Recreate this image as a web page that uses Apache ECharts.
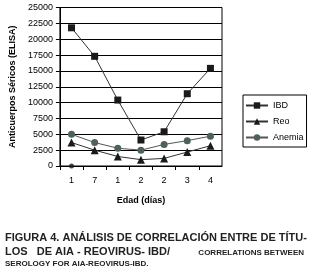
<!DOCTYPE html>
<html><head><meta charset="utf-8">
<script src="https://cdn.jsdelivr.net/npm/echarts@6/dist/echarts.min.js"></script>
<style>html,body{margin:0;padding:0;background:#fff}#c{width:312px;height:270px}</style>
</head><body><div id="c"></div>
<script>
var categories = ['1','7','1','2','2','3','4'];
var ibd = [21800, 17300, 10400, 4100, 5400, 11400, 15400];
var reo = [3700, 2500, 1500, 1000, 1200, 2200, 3200];
var anemia = [5000, 3700, 2800, 2500, 3400, 4000, 4700];
var extra = [0, null, null, null, null, null, null];
var yTicks = [0, 2500, 5000, 7500, 10000, 12500, 15000, 17500, 20000, 22500, 25000];
var seriesNames = ['IBD', 'Reo', 'Anemia'];

var F = 'Liberation Sans, Arial, sans-serif';
var chart = echarts.init(document.getElementById('c'), null, {renderer: 'canvas'});
chart.setOption({
  animation: false,
  backgroundColor: '#fff',
  grid: {left: 50, right: 90, top: 7.5, bottom: 104, show: true, borderColor: '#000', borderWidth: 1},
  legend: {
    data: seriesNames, orient: 'vertical', left: 243, top: 95,
    itemWidth: 22, itemHeight: 8, itemGap: 7,
    padding: [6, 3, 5, 2], borderColor: '#000', borderWidth: 1,
    textStyle: {fontFamily: F, fontSize: 9, color: '#000'}
  },
  xAxis: {
    type: 'category', data: categories, boundaryGap: true,
    name: 'Edad (días)', nameLocation: 'middle', nameGap: 30,
    nameTextStyle: {fontFamily: F, fontSize: 9, fontWeight: 'bold', color: '#000'},
    axisLine: {lineStyle: {color: '#000', width: 1}},
    axisTick: {show: true, length: 4, lineStyle: {color: '#000'}},
    axisLabel: {fontFamily: F, fontSize: 9, color: '#000', margin: 10}
  },
  yAxis: {
    type: 'value', min: yTicks[0], max: yTicks[yTicks.length - 1], interval: 2500,
    name: 'Anticuerpos Séricos (ELISA)', nameLocation: 'middle', nameGap: 40,
    nameTextStyle: {fontFamily: F, fontSize: 9, fontWeight: 'bold', color: '#000'},
    axisLine: {show: true, lineStyle: {color: '#000', width: 1}},
    axisTick: {show: true, length: 4, lineStyle: {color: '#000'}},
    axisLabel: {fontFamily: F, fontSize: 9, color: '#000', margin: 7, formatter: function (v) { return String(v); }},
    splitLine: {lineStyle: {color: '#000', width: 1}}
  },
  series: [
    {name: seriesNames[0], type: 'line', data: ibd, symbol: 'rect', symbolSize: 7,
     itemStyle: {color: '#1a1a1a'}, lineStyle: {color: '#333', width: 1}},
    {name: seriesNames[1], type: 'line', data: reo, symbol: 'triangle', symbolSize: 8,
     itemStyle: {color: '#1a1a1a'}, lineStyle: {color: '#333', width: 1}},
    {name: seriesNames[2], type: 'line', data: anemia, symbol: 'circle', symbolSize: 7,
     itemStyle: {color: '#4d6358'}, lineStyle: {color: '#555', width: 1}},
    {name: 'extra', type: 'scatter', data: extra, symbol: 'circle', symbolSize: 5,
     itemStyle: {color: '#1a1a1a'}}
  ],
  graphic: [
    {type: 'text', left: 5, top: 232, style: {text: 'FIGURA 4. ANÁLISIS DE CORRELACIÓN ENTRE DE TÍTU-', font: 'bold 11px ' + F, fill: '#222'}},
    {type: 'text', left: 5, top: 246, style: {text: 'LOS   DE AIA - REOVIRUS- IBD/', font: 'bold 11px ' + F, fill: '#222'}},
    {type: 'text', right: 8, top: 249, style: {text: 'CORRELATIONS BETWEEN', font: 'bold 8px ' + F, fill: '#222'}},
    {type: 'text', left: 5, top: 260, style: {text: 'SEROLOGY FOR AIA-REOVIRUS-IBD.', font: 'bold 8px ' + F, fill: '#222'}}
  ]
});
</script></body></html>
